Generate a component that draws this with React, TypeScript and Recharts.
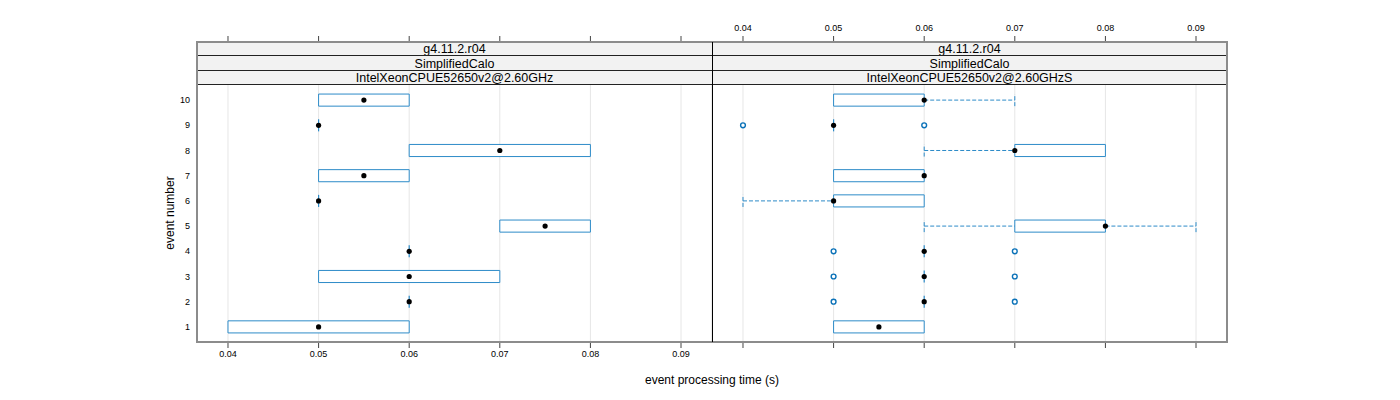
import React from 'react';
import { ComposedChart, XAxis, YAxis, CartesianGrid, Scatter, ReferenceArea, ReferenceLine } from 'recharts';

// ---------- data ----------
const events = [1, 2, 3, 4, 5, 6, 7, 8, 9, 10];
const xTicks = [0.04, 0.05, 0.06, 0.07, 0.08, 0.09];

const leftQ1 = [0.04, 0.06, 0.05, 0.06, 0.07, 0.05, 0.05, 0.06, 0.05, 0.05];
const leftMedian = [0.05, 0.06, 0.06, 0.06, 0.075, 0.05, 0.055, 0.07, 0.05, 0.055];
const leftQ3 = [0.06, 0.06, 0.07, 0.06, 0.08, 0.05, 0.06, 0.08, 0.05, 0.06];
const leftLow = [0.04, 0.06, 0.05, 0.06, 0.07, 0.05, 0.05, 0.06, 0.05, 0.05];
const leftHigh = [0.06, 0.06, 0.07, 0.06, 0.08, 0.05, 0.06, 0.08, 0.05, 0.06];
const leftOutliers: number[][] = [[], [], [], [], [], [], [], [], [], []];

const rightQ1 = [0.05, 0.06, 0.06, 0.06, 0.07, 0.05, 0.05, 0.07, 0.05, 0.05];
const rightMedian = [0.055, 0.06, 0.06, 0.06, 0.08, 0.05, 0.06, 0.07, 0.05, 0.06];
const rightQ3 = [0.06, 0.06, 0.06, 0.06, 0.08, 0.06, 0.06, 0.08, 0.05, 0.06];
const rightLow = [0.05, 0.06, 0.06, 0.06, 0.06, 0.04, 0.05, 0.06, 0.05, 0.05];
const rightHigh = [0.06, 0.06, 0.06, 0.06, 0.09, 0.06, 0.06, 0.08, 0.05, 0.07];
const rightOutliers: number[][] = [[], [0.05, 0.07], [0.05, 0.07], [0.05, 0.07], [], [], [], [], [0.04, 0.06], []];

const leftStrips = ['g4.11.2.r04', 'SimplifiedCalo', 'IntelXeonCPUE52650v2@2.60GHz'];
const rightStrips = ['g4.11.2.r04', 'SimplifiedCalo', 'IntelXeonCPUE52650v2@2.60GHzS'];

// ---------- style ----------
const BLUE = '#2d8bc8';
const FONT = '"Liberation Sans", Arial, Helvetica, sans-serif';
const X_DOMAIN: [number, number] = [0.03658, 0.09342];
const Y_DOMAIN: [number, number] = [0.4, 12.306];
const HALF = 0.24;

const W = 1400;
const H = 400;
const PLOT_TOP = 42;
const PLOT_BOTTOM = 342;
const L0 = 197;
const MID = 712;
const R1 = 1227;

const emptyTick = () => <g />;

type PanelProps = {
  q1: number[];
  med: number[];
  q3: number[];
  low: number[];
  high: number[];
  outliers: number[][];
  left: number;
  right: number;
  showY: boolean;
  labelBottom: boolean;
};

function Panel(p: PanelProps) {
  const yW = p.showY ? 30 : 0;
  const axisH = 30;
  const margin = {
    top: PLOT_TOP - axisH,
    bottom: H - PLOT_BOTTOM - axisH,
    left: p.left - yW,
    right: W - p.right,
  };
  const medData = events.map((e, i) => ({ x: p.med[i], y: e }));
  const outData = events.flatMap((e, i) => p.outliers[i].map((v) => ({ x: v, y: e })));
  const tickStyle = { fontSize: 9, fill: '#000', fontFamily: FONT };

  const elements: React.ReactNode[] = [];
  events.forEach((e, i) => {
    if (p.low[i] < p.q1[i]) {
      elements.push(
        <ReferenceLine key={`wl${i}`} xAxisId="bottom" segment={[{ x: p.low[i], y: e }, { x: p.q1[i], y: e }]}
          stroke={BLUE} strokeDasharray="4 2" strokeWidth={1} />
      );
      elements.push(
        <ReferenceLine key={`cl${i}`} xAxisId="bottom" segment={[{ x: p.low[i], y: e - HALF }, { x: p.low[i], y: e + HALF }]}
          stroke={BLUE} strokeDasharray="4 2" strokeWidth={1} />
      );
    }
    if (p.high[i] > p.q3[i]) {
      elements.push(
        <ReferenceLine key={`wh${i}`} xAxisId="bottom" segment={[{ x: p.q3[i], y: e }, { x: p.high[i], y: e }]}
          stroke={BLUE} strokeDasharray="4 2" strokeWidth={1} />
      );
      elements.push(
        <ReferenceLine key={`ch${i}`} xAxisId="bottom" segment={[{ x: p.high[i], y: e - HALF }, { x: p.high[i], y: e + HALF }]}
          stroke={BLUE} strokeDasharray="4 2" strokeWidth={1} />
      );
    }
    if (p.q3[i] > p.q1[i]) {
      elements.push(
        <ReferenceArea key={`b${i}`} xAxisId="bottom" x1={p.q1[i]} x2={p.q3[i]} y1={e - HALF} y2={e + HALF}
          fill="#ffffff" fillOpacity={1} stroke={BLUE} strokeWidth={1} />
      );
    } else {
      elements.push(
        <ReferenceLine key={`b${i}`} xAxisId="bottom" segment={[{ x: p.q1[i], y: e - HALF }, { x: p.q1[i], y: e + HALF }]}
          stroke={BLUE} strokeWidth={1.2} />
      );
    }
  });

  return (
    <div style={{ position: 'absolute', left: 0, top: 0 }}>
      <ComposedChart width={W} height={H} margin={margin}>
        <CartesianGrid xAxisId="bottom" horizontal={false} stroke="#e6e6e6" strokeWidth={1} />
        <XAxis xAxisId="bottom" dataKey="x" type="number" orientation="bottom" domain={X_DOMAIN} ticks={xTicks}
          allowDataOverflow height={axisH} axisLine={false} tickSize={6} tickMargin={3}
          tickLine={{ stroke: '#444' }} tick={p.labelBottom ? tickStyle : emptyTick} />
        <XAxis xAxisId="top" dataKey="x" type="number" orientation="top" domain={X_DOMAIN} ticks={xTicks}
          allowDataOverflow height={axisH} axisLine={false} tickSize={6} tickMargin={5}
          tickLine={{ stroke: '#444' }} tick={p.labelBottom ? emptyTick : tickStyle} />
        <YAxis dataKey="y" type="number" domain={Y_DOMAIN} ticks={events} allowDataOverflow hide={!p.showY}
          width={yW} axisLine={false} tickLine={false} tickSize={3} tickMargin={4} tick={tickStyle} />
        {elements}
        <Scatter xAxisId="bottom" data={outData} isAnimationActive={false}
          shape={(s: any) => <circle cx={s.cx} cy={s.cy} r={2.4} fill="#fff" stroke="#0b72b8" strokeWidth={1.4} />} />
        <Scatter xAxisId="bottom" data={medData} isAnimationActive={false}
          shape={(s: any) => <circle cx={s.cx} cy={s.cy} r={2.6} fill="#000" />} />
      </ComposedChart>
    </div>
  );
}

function Strips({ labels, left, right }: { labels: string[]; left: number; right: number }) {
  const rows = [
    [42, 56],
    [56, 71],
    [71, 85],
  ];
  return (
    <>
      {rows.map(([t, b], i) => (
        <div key={i} style={{
          position: 'absolute', left, top: t, width: right - left, height: b - t,
          background: '#f2f2f2', borderBottom: '1px solid #222', boxSizing: 'border-box',
          fontFamily: FONT, fontSize: 12.5, lineHeight: `${b - t + 1}px`, textAlign: 'center', color: '#000',
          whiteSpace: 'nowrap', overflow: 'hidden',
        }}>{labels[i]}</div>
      ))}
    </>
  );
}

export default function App() {
  return (
    <div style={{ position: 'absolute', left: 0, top: 0, width: W, height: H, background: '#fff', overflow: 'hidden' }}>
      <Panel q1={leftQ1} med={leftMedian} q3={leftQ3} low={leftLow} high={leftHigh} outliers={leftOutliers}
        left={L0} right={MID} showY labelBottom />
      <Panel q1={rightQ1} med={rightMedian} q3={rightQ3} low={rightLow} high={rightHigh} outliers={rightOutliers}
        left={MID} right={R1} showY={false} labelBottom={false} />
      <Strips labels={leftStrips} left={L0} right={MID} />
      <Strips labels={rightStrips} left={MID} right={R1} />
      <div style={{ position: 'absolute', left: L0 - 1, top: PLOT_TOP - 1, width: R1 - L0 + 2, height: PLOT_BOTTOM - PLOT_TOP + 2,
        border: '2px solid #8c8c8c', boxSizing: 'border-box', pointerEvents: 'none' }} />
      <div style={{ position: 'absolute', left: MID - 0.5, top: PLOT_TOP, width: 1, height: PLOT_BOTTOM - PLOT_TOP, background: '#000' }} />
      <div style={{ position: 'absolute', left: 170, top: 213, transform: 'translate(-50%, -50%) rotate(-90deg)',
        fontFamily: FONT, fontSize: 12, whiteSpace: 'nowrap', color: '#000' }}>event number</div>
      <div style={{ position: 'absolute', left: 712, top: 380, transform: 'translate(-50%, -50%)',
        fontFamily: FONT, fontSize: 12, whiteSpace: 'nowrap', color: '#000' }}>event processing time (s)</div>
    </div>
  );
}
